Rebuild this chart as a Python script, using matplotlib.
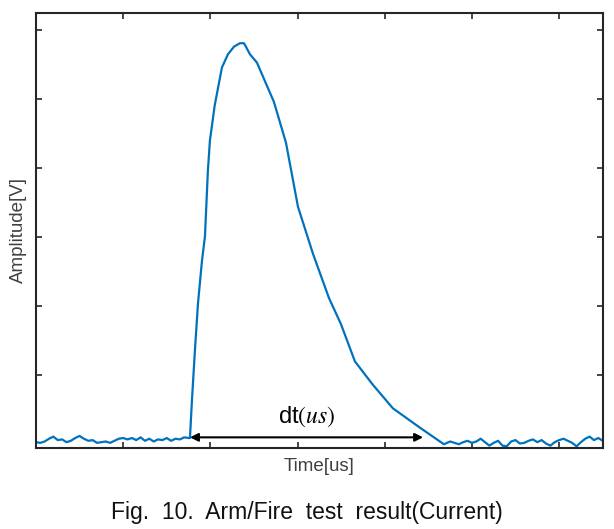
import matplotlib
import matplotlib.pyplot as plt
import numpy as np

matplotlib.use("Agg")

plt.rcParams["font.family"] = ["Liberation Sans", "DejaVu Sans"]
plt.rcParams["mathtext.fontset"] = "stix"

# Baseline before the pulse (x step 0.05 from 0.0)
pre_x = [i * 0.05 for i in range(36)]
pre_y = [0.03, 0.02, 0.04, 0.08, 0.11, 0.06, 0.07, 0.03, 0.05, 0.09, 0.12, 0.08,
         0.05, 0.06, 0.02, 0.03, 0.04, 0.02, 0.05, 0.08, 0.09, 0.07, 0.09, 0.06,
         0.10, 0.05, 0.08, 0.04, 0.07, 0.06, 0.09, 0.05, 0.08, 0.07, 0.10, 0.09]

# Current pulse
pulse_x = [1.766, 1.789, 1.823, 1.858, 1.904, 1.938, 1.972, 1.995, 2.05, 2.133,
           2.202, 2.271, 2.339, 2.385, 2.408, 2.454, 2.534, 2.592, 2.729, 2.867,
           3.005, 3.177, 3.360, 3.498, 3.658, 3.865, 4.094, 4.415, 4.679]
pulse_y = [0.09, 0.64, 1.36, 2.04, 2.66, 3.01, 3.97, 4.40, 4.91, 5.46,
           5.65, 5.76, 5.81, 5.81, 5.76, 5.65, 5.53, 5.36, 4.96, 4.37,
           3.44, 2.76, 2.12, 1.74, 1.20, 0.86, 0.52, 0.23, 0.00]

# Baseline after the pulse
post_x = [4.75 + i * 0.05 for i in range(36)]
post_y = [0.04, 0.02, 0.00, 0.03, 0.05, 0.02, 0.04, 0.08, 0.03, -0.02, 0.02, 0.05,
          -0.02, -0.03, 0.04, 0.06, 0.01, 0.02, 0.05, 0.07, 0.03, 0.06, 0.01, -0.02,
          0.03, 0.06, 0.08, 0.05, 0.02, -0.03, 0.03, 0.08, 0.11, 0.06, 0.09, 0.05]

dt_start, dt_end, dt_level = 1.766, 4.44, 0.10

x = np.array(pre_x + pulse_x + post_x)
y = np.array(pre_y + pulse_y + post_y)

fig = plt.figure(figsize=(6.14, 5.29), dpi=100)
ax = fig.add_axes([0.0586, 0.1537, 0.923, 0.822])

ax.plot(x, y, color="#0072BD", linewidth=1.6)

ax.annotate("", xy=(dt_end, dt_level), xytext=(dt_start, dt_level),
            arrowprops=dict(arrowstyle="<|-|>", color="black", lw=1.5,
                            mutation_scale=12, shrinkA=0, shrinkB=0))
ax.text((dt_start + dt_end) / 2 + 0.0, dt_level + 0.12, r"dt$(us)$",
        ha="center", va="bottom", fontsize=17, color="black")

ax.set_xlim(0, 6.5)
ax.set_ylim(-0.05, 6.25)
ax.set_xticks([1, 2, 3, 4, 5, 6])
ax.set_yticks([1, 2, 3, 4, 5, 6])
ax.set_xticklabels([])
ax.set_yticklabels([])
ax.tick_params(direction="in", length=4, width=1.2, top=True, right=True,
               color="#262626")
for s in ax.spines.values():
    s.set_color("#262626")
    s.set_linewidth(1.5)

ax.set_xlabel("Time[us]", fontsize=13.5, color="#404040", labelpad=4)
ax.set_ylabel("Amplitude[V]", fontsize=13.5, color="#404040", labelpad=3)

fig.text(0.5, 0.032, "Fig.  10.  Arm/Fire  test  result(Current)",
         ha="center", va="center", fontsize=16.5, color="#111111")

fig.savefig("out.png", dpi=100)
plt.close(fig)
